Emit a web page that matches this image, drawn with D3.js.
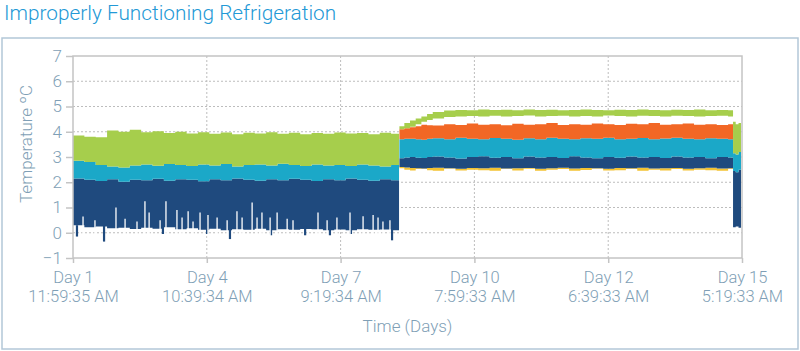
<!DOCTYPE html>
<html><head><meta charset="utf-8">
<script src="https://cdn.jsdelivr.net/npm/d3@7/dist/d3.min.js"></script>
<style>
body{margin:0;background:#fff}
svg{display:block}
text{font-family:Roboto,"Liberation Sans",sans-serif;font-weight:300}
</style></head>
<body><svg id="chart" width="800" height="351"></svg>
<script>
// ---------- data ----------
const titleText = "Improperly Functioning Refrigeration";
const yTicks = [-1,0,1,2,3,4,5,6,7];
const xTickHours = [0, 70.67, 141.33, 212, 282.67, 353.33];
const xTickDays = ["Day 1","Day 4","Day 7","Day 10","Day 12","Day 15"];
const xTickTimes = ["11:59:35 AM","10:39:34 AM","9:19:34 AM","7:59:33 AM","6:39:33 AM","5:19:33 AM"];

// Phase 1 (normal level), hours since start
const p1Hours = [0,6,12,18,24,30,36,42,48,54,60,66,72,78,84,90,96,102,108,114,120,126,132,138,144,150,156,162,168,172.2];
const greenTopP1 = [3.85,3.8,3.78,4.05,4.0,4.08,3.98,4.02,3.95,4.0,3.93,3.98,3.92,3.97,3.9,3.96,3.93,3.98,3.92,3.96,3.9,3.95,3.92,3.97,3.93,3.95,3.9,3.96,3.92,3.95];
const tealTopP1 = [2.85,2.8,2.68,2.62,2.58,2.66,2.7,2.65,2.72,2.68,2.64,2.7,2.66,2.72,2.62,2.68,2.7,2.66,2.73,2.68,2.64,2.7,2.66,2.68,2.64,2.7,2.66,2.62,2.68,2.66];
const navyTopP1 = [2.15,2.1,2.05,2.12,2.02,2.1,2.08,2.14,2.06,2.12,2.1,2.04,2.12,2.08,2.15,2.1,2.06,2.12,2.08,2.14,2.1,2.05,2.12,2.08,2.15,2.1,2.06,2.12,2.08,2.1];
const navyBaseP1 = [0.3,0.22,0.25,0.18,0.2,0.15,0.2,0.16,0.22,0.14,0.18,0.12,0.16,0.1,0.14,0.12,0.16,0.1,0.14,0.12,0.15,0.14,0.1,0.13,0.1,0.14,0.12,0.13,0.1,0.12];
// gaps reaching up into the dark blue band [hour, value]
const navyUpSpikes = [[5.3,0.64],[11.6,0.5],[22.7,1.0],[27.5,0.55],[33.8,0.45],[38.0,1.25],[40.2,0.8],[46.0,0.5],[49.1,1.25],[54.9,0.9],[57.6,0.6],[60.8,0.85],[63.4,0.45],[67.1,0.8],[71.3,0.7],[76.1,0.6],[81.4,0.5],[86.6,0.85],[89.3,0.6],[94.6,1.2],[97.2,0.6],[99.8,0.8],[104.1,0.6],[107.8,0.8],[113.1,0.55],[116.2,0.5],[129.4,0.8],[134.2,0.5],[139.4,0.6],[146.3,0.8],[153.2,0.65],[158.5,0.7],[161.1,0.6],[163.7,0.45],[167.4,0.5]];
// dips below the dark blue band [hour, value]
const navyDownSpikes = [[2.1,-0.15],[16.4,-0.35],[47.5,-0.05],[70.8,-0.05],[82.9,-0.25],[104.6,-0.1],[122.6,-0.1],[135.7,-0.1],[146.8,-0.05],[168.5,-0.3]];

// Phase 2 (raised level)
const p2Hours = [172.4,175,178,181,184,187,190,196,202,208,214,220,226,232,238,244,250,256,262,268,274,280,286,292,298,304,310,316,322,328,334,340,346,348.6];
const greenTopP2 = [4.22,4.35,4.45,4.52,4.6,4.7,4.78,4.84,4.86,4.85,4.88,4.86,4.87,4.85,4.88,4.86,4.87,4.85,4.86,4.88,4.86,4.85,4.87,4.86,4.88,4.86,4.85,4.87,4.86,4.88,4.85,4.86,4.85,4.6];
const greenBotP2 = [4.1,4.14,4.2,4.3,4.4,4.47,4.52,4.58,4.6,4.62,4.6,4.63,4.6,4.62,4.64,4.6,4.62,4.63,4.6,4.62,4.6,4.64,4.62,4.6,4.63,4.62,4.6,4.63,4.62,4.6,4.62,4.63,4.6,4.6];
const orangeTopP2 = [4.1,4.14,4.18,4.22,4.28,4.26,4.25,4.3,4.27,4.33,4.28,4.3,4.26,4.32,4.28,4.3,4.35,4.27,4.3,4.28,4.33,4.3,4.27,4.32,4.3,4.35,4.28,4.3,4.33,4.28,4.3,4.27,4.3,4.3];
const tealTopP2 = [3.7,3.72,3.72,3.7,3.68,3.72,3.74,3.7,3.76,3.72,3.7,3.75,3.72,3.68,3.74,3.7,3.76,3.72,3.7,3.74,3.72,3.76,3.7,3.72,3.75,3.7,3.73,3.76,3.72,3.7,3.74,3.72,3.7,3.7];
const navyTopP2 = [2.95,2.98,3.0,2.97,2.96,3.0,3.02,2.98,2.94,3.0,3.03,2.97,3.0,2.95,3.02,2.98,3.0,2.96,3.03,2.98,2.95,3.0,2.97,3.02,2.98,3.0,2.96,3.02,2.98,3.0,2.95,3.0,2.98,2.98];
const navyBotP2 = [2.6,2.58,2.56,2.55,2.54,2.56,2.57,2.55,2.53,2.56,2.55,2.57,2.54,2.55,2.56,2.53,2.55,2.57,2.54,2.56,2.55,2.53,2.56,2.55,2.57,2.54,2.55,2.56,2.53,2.55,2.57,2.54,2.55,2.55];
const yellowBotP2 = [2.55,2.5,2.47,2.52,2.52,2.48,2.46,2.53,2.47,2.5,2.48,2.46,2.52,2.47,2.53,2.46,2.5,2.52,2.46,2.49,2.53,2.47,2.48,2.52,2.46,2.5,2.47,2.52,2.47,2.5,2.48,2.46,2.52,2.52];

// Final drop at the end of the record
const endHours = [348.6,350,351.5,352.8];
const greenTopEnd = [4.4,4.3,4.35,4.3];
const tealTopEnd = [3.15,3.1,3.2,3.15];
const navyTopEnd = [2.45,2.4,2.5,2.45];
const navyBotEnd = [0.22,0.25,0.2,0.25];

// ---------- chart ----------
const colors = {green:"#a6ce4c", teal:"#1ba8c8", navy:"#1f4a7e", orange:"#f26725", yellow:"#f3c232"};
const labelColor = "#7f9fb6";
const svg = d3.select("#chart");
const x = d3.scaleLinear().domain([0, 353.33]).range([73, 742]);
const y = d3.scaleLinear().domain([-1, 7]).range([258, 56]);

// outer frame
svg.append("rect").attr("x",2).attr("y",38).attr("width",796).attr("height",311)
  .attr("fill","none").attr("stroke","#b3c7d8").attr("stroke-width",1.5);

// title
svg.append("text").attr("x",4).attr("y",19.5).attr("fill","#2399d6")
  .attr("font-size",20.8).text(titleText);

// grid
const grid = svg.append("g");
grid.selectAll("line.h").data(yTicks.filter(d=>d>-1 && d<7)).join("line")
  .attr("x1",x(0)).attr("x2",x(353.33)).attr("y1",d=>y(d)).attr("y2",d=>y(d))
  .attr("stroke","#bdbdbd").attr("stroke-dasharray","2,2").attr("stroke-width",1);
grid.selectAll("line.v").data(xTickHours.slice(1,-1)).join("line")
  .attr("x1",d=>x(d)).attr("x2",d=>x(d)).attr("y1",y(7)).attr("y2",y(-1))
  .attr("stroke","#bdbdbd").attr("stroke-dasharray","2,2").attr("stroke-width",1);

// bands
function band(hours, lo, hi, color){
  const pts = hours.map((h,i)=>({h, lo:lo[i], hi:hi[i]}));
  const area = d3.area().curve(d3.curveStepAfter)
    .x(d=>x(d.h)).y0(d=>y(d.lo)).y1(d=>y(d.hi));
  svg.append("path").datum(pts).attr("d",area).attr("fill",color);
}
// phase 1
band(p1Hours, navyBaseP1, navyTopP1, colors.navy);
band(p1Hours, navyTopP1, tealTopP1, colors.teal);
band(p1Hours, tealTopP1, greenTopP1, colors.green);
// spikes phase 1
svg.append("g").selectAll("line").data(navyDownSpikes).join("line")
  .attr("x1",d=>x(d[0])).attr("x2",d=>x(d[0])).attr("y1",y(0.3)).attr("y2",d=>y(d[1]))
  .attr("stroke",colors.navy).attr("stroke-width",2.2);
svg.append("g").selectAll("line").data(navyUpSpikes).join("line")
  .attr("x1",d=>x(d[0])).attr("x2",d=>x(d[0])).attr("y1",y(-0.3)).attr("y2",d=>y(d[1]))
  .attr("stroke","#ffffff").attr("stroke-width",1.3);
// phase 2
band(p2Hours, yellowBotP2, navyBotP2, colors.yellow);
band(p2Hours, navyBotP2, navyTopP2, colors.navy);
band(p2Hours, navyTopP2, tealTopP2, colors.teal);
band(p2Hours, tealTopP2, orangeTopP2, colors.orange);
band(p2Hours, greenBotP2, greenTopP2, colors.green);
// end
band(endHours, navyBotEnd, navyTopEnd, colors.navy);
band(endHours, navyTopEnd, tealTopEnd, colors.teal);
band(endHours, tealTopEnd, greenTopEnd, colors.green);

// plot border (axis lines)
svg.append("rect").attr("x",x(0)).attr("y",y(7)).attr("width",x(353.33)-x(0)).attr("height",y(-1)-y(7))
  .attr("fill","none").attr("stroke","#c4c4c4").attr("stroke-width",1.5);

// y axis
const yAxis = svg.append("g").attr("transform",`translate(${x(0)},0)`)
  .call(d3.axisLeft(y).tickValues(yTicks).tickSize(7).tickPadding(4).tickFormat(d3.format("d")));
yAxis.select(".domain").remove();
yAxis.selectAll("line").attr("stroke","#c4c4c4").attr("stroke-width",1.5);
yAxis.selectAll("text").attr("fill",labelColor).attr("font-size",17)
  .style("font-family","Roboto, 'Liberation Sans', sans-serif").style("font-weight",300);

// x axis
const xAxis = svg.append("g").attr("transform",`translate(0,${y(-1)})`)
  .call(d3.axisBottom(x).tickValues(xTickHours).tickSize(5).tickFormat(()=>""));
xAxis.select(".domain").remove();
xAxis.selectAll("line").attr("stroke","#c4c4c4").attr("stroke-width",1.5);
xAxis.selectAll(".tick").each(function(d,i){
  const g = d3.select(this);
  g.select("text").remove();
  g.append("text").attr("y",24.5).attr("text-anchor","middle")
    .attr("fill",labelColor).attr("font-size",16.5).text(xTickDays[i]);
  g.append("text").attr("y",43.5).attr("text-anchor","middle")
    .attr("fill",labelColor).attr("font-size",16.5).text(xTickTimes[i]);
});

// axis titles
svg.append("text").attr("x",(x(0)+x(353.33))/2).attr("y",332).attr("text-anchor","middle")
  .attr("fill",labelColor).attr("font-size",17).text("Time (Days)");
svg.append("text").attr("transform","translate(32,144) rotate(-90)").attr("text-anchor","middle")
  .attr("fill",labelColor).attr("font-size",17).text("Temperature ºC");
</script>
</body></html>
